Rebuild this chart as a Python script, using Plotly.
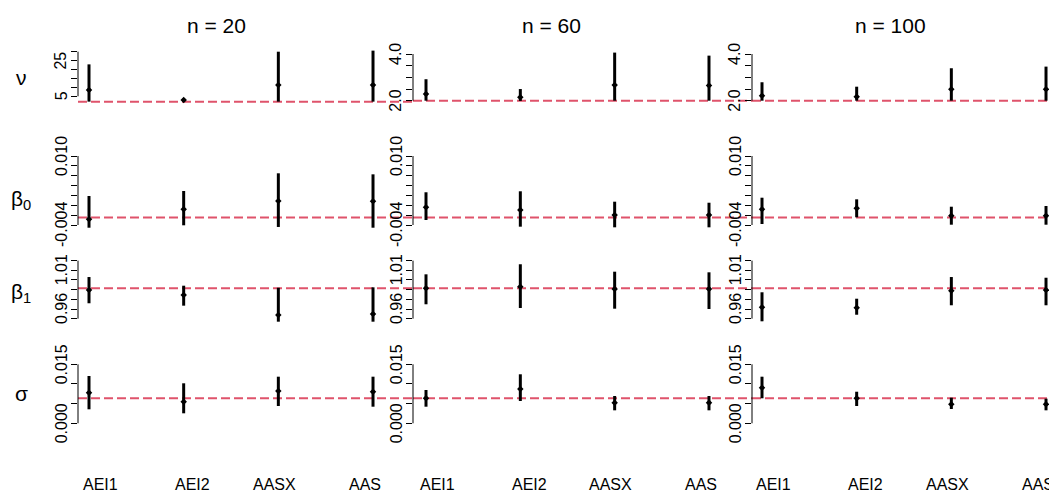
import plotly.graph_objects as go

# ---------------- data ----------------
methods = ["AEI1", "AEI2", "AASX", "AAS"]
sample_sizes = ["n = 20", "n = 60", "n = 100"]
param_labels = ["ν", "β<sub>0</sub>", "β<sub>1</sub>", "σ"]
true_values = [2.0, -0.0025, 0.9867, 0.0064]

# estimates / lower / upper : [sample size][method]
nu_est = [[8.5, 2.9, 11.3, 11.3], [2.29, 2.15, 2.67, 2.65], [2.21, 2.17, 2.49, 2.49]]
nu_lo = [[2.0, 2.2, 2.0, 2.0], [2.0, 1.99, 2.0, 2.0], [2.0, 2.0, 2.0, 2.0]]
nu_hi = [[22.9, 3.7, 30.0, 30.6], [2.92, 2.5, 4.06, 3.93], [2.79, 2.6, 3.39, 3.46]]

b0_est = [[-0.00284, -0.00081, 0.00087, 0.00081], [-0.00041, -0.00096, -0.00197, -0.00197], [-0.00081, -0.0006, -0.00211, -0.00211]]
b0_lo = [[-0.00455, -0.00406, -0.0044, -0.00455], [-0.00299, -0.00434, -0.00447, -0.00447], [-0.0038, -0.00244, -0.00394, -0.00394]]
b0_hi = [[0.00188, 0.0029, 0.00649, 0.00628], [0.00264, 0.00284, 0.00073, 0.00052], [0.00154, 0.00121, -0.00029, -0.00015]]

b1_est = [[0.9845, 0.9781, 0.9522, 0.9535], [0.9867, 0.9888, 0.9858, 0.9858], [0.9622, 0.9617, 0.9836, 0.9845]]
b1_lo = [[0.9674, 0.9643, 0.9436, 0.9436], [0.9661, 0.9613, 0.9604, 0.9600], [0.9441, 0.9526, 0.9648, 0.9648]]
b1_hi = [[1.0013, 0.9901, 0.9875, 0.9880], [1.0048, 1.0178, 1.0082, 1.0074], [0.9816, 0.9733, 1.0013, 1.0004]]

sg_est = [[0.00778, 0.00549, 0.00821, 0.00803], [0.00636, 0.00872, 0.00524, 0.00524], [0.00905, 0.00636, 0.00483, 0.00483]]
sg_lo = [[0.00356, 0.00254, 0.0044, 0.00422], [0.00422, 0.00567, 0.0033, 0.0033], [0.00636, 0.0044, 0.00364, 0.0033]]
sg_hi = [[0.01203, 0.01017, 0.01185, 0.01185], [0.00847, 0.01246, 0.00694, 0.00694], [0.01185, 0.00803, 0.00651, 0.00626]]

# y tick values and the labelled ones
nu_ticks_a = [5, 10, 15, 20, 25, 30]
nu_labels_a = {5: "5", 25: "25"}
nu_ticks_b = [2.0, 2.5, 3.0, 3.5, 4.0]
nu_labels_b = {2.0: "2.0", 4.0: "4.0"}
b0_ticks = [-0.004, -0.002, 0.0, 0.002, 0.004, 0.006, 0.008, 0.010]
b0_labels = {-0.004: "-0.004", 0.010: "0.010"}
b1_ticks = [0.9475, 0.96, 0.9725, 0.985, 0.9975, 1.01, 1.0225]
b1_labels = {0.96: "0.96", 1.01: "1.01"}
sg_ticks = [0.0, 0.005, 0.010, 0.015]
sg_labels = {0.0: "0.000", 0.015: "0.015"}

# ---------------- layout constants (pixels) ----------------
W, H = 1049, 499
COL_AXIS = [78, 413, 752]
COL_FIRST = [89, 426, 762]
COL_STEP = [94.67, 94.33, 94.67]
COL_RIGHT = [413, 752, 1049]
ROW_TOP = [44, 148, 253, 357]
ROW_BOT = [108, 233, 327, 431]
# pixel calibration of each row's y scale: ((v1, px1), (v2, px2))
CAL = [
    [((5, 96.3), (30, 51.7)), ((2, 100.7), (4, 54)), ((2, 100.7), (4, 54))],
    [((-0.004, 225), (0.010, 156))] * 3,
    [((0.96, 309), (1.01, 270.3))] * 3,
    [((0.0, 423.3), (0.015, 364.3))] * 3,
]
LABEL_SHIFT = [11, 9, -4, -8]
RED = "#DF536B"
FONT = "Liberation Sans, Arial, sans-serif"

rows = [
    (nu_est, nu_lo, nu_hi),
    (b0_est, b0_lo, b0_hi),
    (b1_est, b1_lo, b1_hi),
    (sg_est, sg_lo, sg_hi),
]
tick_sets = [
    [(nu_ticks_a, nu_labels_a), (nu_ticks_b, nu_labels_b), (nu_ticks_b, nu_labels_b)],
    [(b0_ticks, b0_labels)] * 3,
    [(b1_ticks, b1_labels)] * 3,
    [(sg_ticks, sg_labels)] * 3,
]


def px2val(p, cal):
    (v1, p1), (v2, p2) = cal
    return v1 + (p - p1) * (v2 - v1) / (p2 - p1)


fig = go.Figure()
layout = dict(
    width=W, height=H, margin=dict(l=0, r=0, t=0, b=0),
    paper_bgcolor="white", plot_bgcolor="white", showlegend=False,
    font=dict(family=FONT, color="black"),
)
shapes, annotations = [], []
xcat = list(range(1, len(methods) + 1))

for r in range(4):
    est, lo, hi = rows[r]
    for c in range(3):
        k = r * 3 + c + 1
        xs = "" if k == 1 else str(k)
        xname, yname = "x" + xs, "y" + xs
        # interval segments
        sx, sy = [], []
        for i, xv in enumerate(xcat):
            sx += [xv, xv, None]
            sy += [lo[c][i], hi[c][i], None]
        fig.add_trace(go.Scatter(x=sx, y=sy, mode="lines", xaxis=xname, yaxis=yname,
                                 line=dict(color="black", width=3), hoverinfo="skip", cliponaxis=False))
        fig.add_trace(go.Scatter(x=xcat, y=est[c], mode="markers", xaxis=xname, yaxis=yname,
                                 marker=dict(symbol="diamond", size=5, color="black"), cliponaxis=False))
        # axes
        x0 = 1 + (COL_AXIS[c] - COL_FIRST[c]) / COL_STEP[c]
        x1 = 1 + (COL_RIGHT[c] - COL_FIRST[c]) / COL_STEP[c]
        cal = CAL[r][c]
        yr = [px2val(ROW_BOT[r], cal), px2val(ROW_TOP[r], cal)]
        ticks, labels = tick_sets[r][c]
        layout["xaxis" + xs] = dict(domain=[COL_AXIS[c] / W, COL_RIGHT[c] / W], range=[x0, x1],
                                    anchor=yname, showgrid=False, zeroline=False, showline=False,
                                    showticklabels=False, ticks="", fixedrange=True)
        layout["yaxis" + xs] = dict(domain=[1 - ROW_BOT[r] / H, 1 - ROW_TOP[r] / H], range=yr,
                                    anchor=xname, showgrid=False, zeroline=False, showline=False,
                                    tickmode="array", tickvals=ticks, ticks="outside", ticklen=6,
                                    tickwidth=1, tickcolor="black", showticklabels=False, fixedrange=True)
        # axis line over tick span
        shapes.append(dict(type="line", xref=xname + " domain", yref=yname, x0=0, x1=0,
                           y0=ticks[0], y1=ticks[-1], line=dict(color="black", width=1)))
        # true value dashed line
        shapes.append(dict(type="line", xref=xname + " domain", yref=yname, x0=0, x1=1,
                           y0=true_values[r], y1=true_values[r], layer="below",
                           line=dict(color=RED, width=2, dash="9px,4px")))
        # tick labels
        for tv, tl in labels.items():
            annotations.append(dict(text=tl, xref="paper", yref=yname, x=(COL_AXIS[c] - 17) / W, y=tv,
                                    textangle=-90, showarrow=False, xanchor="center", yanchor="middle",
                                    font=dict(size=16)))
        # category labels at the bottom
        if r == 3:
            for i, m in enumerate(methods):
                annotations.append(dict(text=m, xref=xname, yref="paper", x=xcat[i], y=1 - 484 / H,
                                        xshift=LABEL_SHIFT[i], showarrow=False, xanchor="center",
                                        yanchor="middle", font=dict(size=16)))

# column titles
for c, t in enumerate(sample_sizes):
    annotations.append(dict(text=t, xref="paper", yref="paper",
                            x=(COL_AXIS[c] + 138) / W, y=1 - 25 / H, showarrow=False,
                            xanchor="center", yanchor="middle", font=dict(size=21)))
# row labels
ROW_LABEL_Y = [77, 200, 293, 393]
for r, t in enumerate(param_labels):
    annotations.append(dict(text=t, xref="paper", yref="paper", x=21 / W, y=1 - ROW_LABEL_Y[r] / H,
                            showarrow=False, xanchor="center", yanchor="middle", font=dict(size=21)))

layout["shapes"] = shapes
layout["annotations"] = annotations
fig.update_layout(**layout)
fig.write_html("out.html")
